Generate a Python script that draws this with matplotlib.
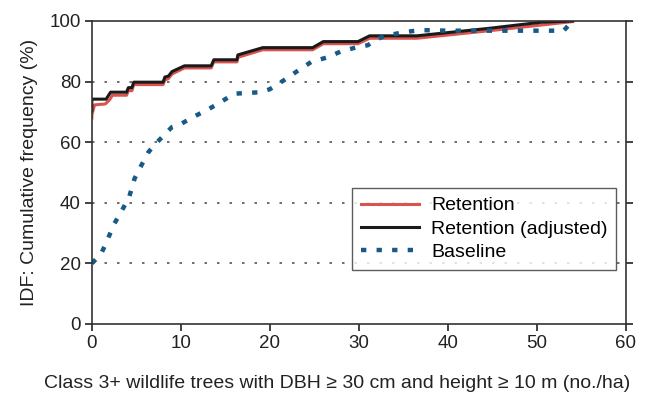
import numpy as np
import matplotlib
matplotlib.use('Agg')
import matplotlib.pyplot as plt

plt.rcParams['font.family'] = ['Liberation Sans', 'DejaVu Sans']

# curvas (x: arboles/ha, y: % acumulado)
ret_x = [0, 0, 0.3, 1.5, 2.0, 2.3, 3.9, 4.1, 4.5, 4.7, 8.0, 8.2, 8.6, 9.0, 10.4,
         13.4, 13.7, 16.3, 16.4, 19.2, 24.8, 26.0, 29.9, 31.2, 36.5, 44.7, 54]
ret_y = [68, 69, 72.3, 72.6, 74, 75.5, 75.5, 77, 77, 79, 79, 80.5, 81, 82.5, 84.5,
         84.5, 86.5, 86.5, 88, 90.5, 90.5, 92.5, 92.5, 94.3, 94.3, 96.8, 99.8]

adj_x = [0, 0, 1.6, 2.1, 3.9, 4.1, 4.5, 4.7, 8.0, 8.2, 8.6, 9.0, 10.4, 13.4, 13.7,
         16.3, 16.4, 19.2, 24.8, 26.0, 29.9, 31.2, 36.5, 44.7, 50.5, 54]
adj_y = [70.5, 74.2, 74.2, 76.5, 76.5, 78, 78, 79.8, 79.8, 81.5, 81.8, 83.3, 85.2,
         85.2, 87.2, 87.2, 88.8, 91.2, 91.2, 93.2, 93.2, 95.1, 95.1, 97.6, 99.6, 100]

base_x = [0, 1, 1.5, 2.5, 3.3, 4.2, 4.8, 5.5, 6.3, 7, 8, 9, 10, 11.5, 13, 14.5, 16,
          19, 20, 21.5, 23, 24.7, 26.5, 28, 30, 31, 32, 33, 35, 37, 40, 53, 54]
base_y = [20, 23, 26, 33, 37, 42, 48, 52, 56.5, 59, 62, 65, 66, 68.5, 70.7, 73.3, 76,
          76.5, 77.5, 80.3, 83.3, 86.6, 88, 90, 91.5, 92, 94, 95.1, 96.3, 97, 96.8, 96.8, 100]

fig = plt.figure(figsize=(6.47, 3.96), dpi=100)
ax = fig.add_axes([0.142, 0.182, 0.8255, 0.765])

for yv in [20, 40, 60, 80]:
    ax.axhline(yv, color='#555555', lw=1.2, linestyle=(0, (1.5, 6)), zorder=0)

ax.plot(ret_x, ret_y, color='#d9534f', lw=2.2, label='Retention')
ax.plot(adj_x, adj_y, color='#1a1a1a', lw=2.2, label='Retention (adjusted)')
ax.plot(base_x, base_y, color='#175a86', lw=3.2, linestyle=(0, (1.2, 2.3)),
        dash_capstyle='butt', label='Baseline')

ax.set_xlim(0, 60)
ax.set_ylim(0, 100)
ax.set_xticks(range(0, 61, 10))
ax.set_yticks(range(0, 101, 20))
ax.tick_params(axis='both', labelsize=13.5, direction='out', length=5, width=1.2,
               colors='#222222', pad=3)
ax.tick_params(axis='y', right=True, which='both')
for s in ax.spines.values():
    s.set_linewidth(1.2)
    s.set_color('#333333')

ax.set_xlabel('Class 3+ wildlife trees with DBH \u2265 30 cm and height \u2265 10 m (no./ha)',
              fontsize=14, color='#222222')
ax.xaxis.set_label_coords(0.46, -0.17)
ax.set_ylabel('IDF: Cumulative frequency (%)', fontsize=14, color='#222222', labelpad=8)

leg = ax.legend(loc='lower right', bbox_to_anchor=(0.982, 0.178), fontsize=14,
                frameon=True, fancybox=False, edgecolor='#333333', handlelength=3.0,
                handletextpad=0.6, borderpad=0.45, labelspacing=0.3,
                borderaxespad=0)
leg.get_frame().set_linewidth(1.0)

plt.savefig('out.png', dpi=100)
